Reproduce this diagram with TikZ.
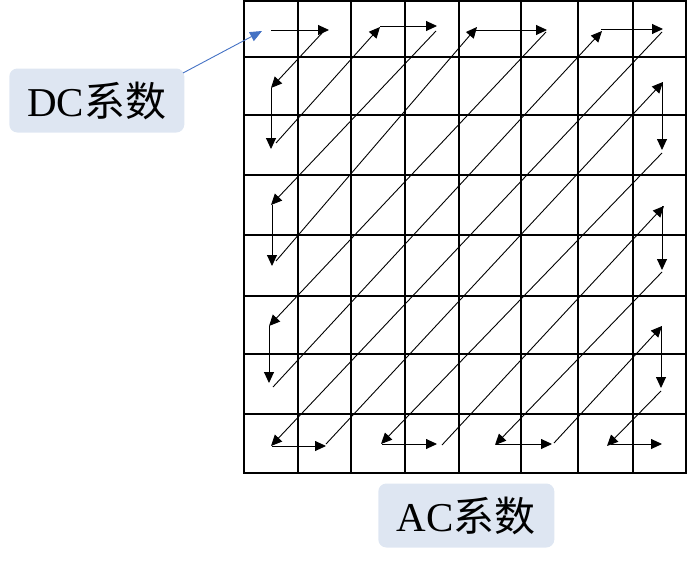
\documentclass[tikz,border=0pt]{standalone}
\usepackage{fontspec}
\setmainfont{Liberation Serif}
\newfontfamily\cjk{Noto Sans CJK SC}
\usetikzlibrary{arrows.meta}
\definecolor{boxfill}{RGB}{222,230,242}
\definecolor{linkblue}{RGB}{68,114,196}
\tikzset{
  gridline/.style={line width=2.3pt,black},
  scanarrow/.style={line width=0.9pt,-{Triangle[length=11pt,width=10pt]}},
  labelbox/.style={rounded corners=8pt,fill=boxfill,draw=none,minimum width=175pt,minimum height=64pt,inner sep=0pt,font=\fontsize{41}{43}\selectfont},
  bluelink/.style={linkblue,line width=0.9pt,-{Triangle[length=12pt,width=10pt]}}
}
\begin{document}
\begin{tikzpicture}[x=1pt,y=-1pt]
\useasboundingbox (0,0) rectangle (688,565);
% grid
\foreach \gx in {244,298,351,405,459,521,578,633,686}
  \draw[gridline] (\gx,1) -- (\gx,473);
\foreach \gy in {1,57,115,175,235,296,354,414,473}
  \draw[gridline] (243,\gy) -- (687,\gy);
% scan arrows
\foreach \n/\sx/\sy/\ex/\ey in {
  1/271/30/329/30, 2/323/32/271/88, 3/271/88/271/149, 4/276/143/380/27,
  5/380/26/437/26, 6/436/31/271/205, 7/272/205/272/266, 8/276/261/477/27,
  9/476/30/547/30, 10/546/32/269/326, 11/269/326/269/383, 12/273/387/602/31,
  13/601/29/663/29, 14/662/32/271/446, 15/272/446/326/446, 16/326/444/663/82,
  17/662/82/662/150, 18/662/153/381/444, 19/382/444/437/444, 20/442/445/664/206,
  21/662/206/662/270, 22/662/272/495/445, 23/496/444/552/444, 24/554/443/662/326,
  25/661/326/661/388, 26/661/391/607/446, 27/611/444/662/444}
{
  \coordinate (s\n) at (\sx,\sy);
  \coordinate (e\n) at (\ex,\ey);
  \draw[scanarrow] (s\n) -- (e\n);
}
% labels
\node[labelbox] (dc) at (96.8,100.5) {DC{\cjk 系数}};
\node[labelbox,minimum width=176pt] (ac) at (466.3,515.5) {AC{\cjk 系数}};
\coordinate (dcpt) at (183,73);
\coordinate (dctarget) at (262,31);
\draw[bluelink] (dcpt) -- (dctarget);
\end{tikzpicture}
\end{document}
